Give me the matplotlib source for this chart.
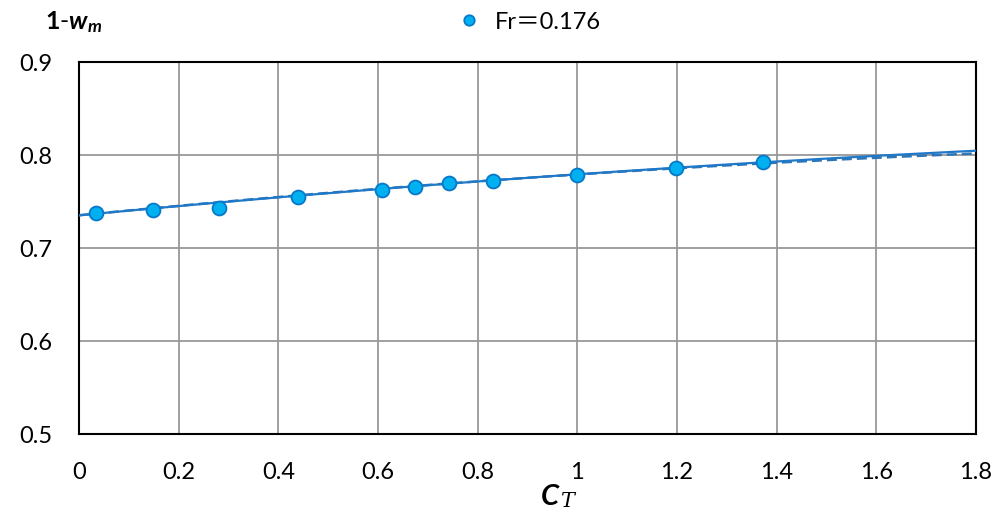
import numpy as np
import matplotlib
matplotlib.use('Agg')
import matplotlib.pyplot as plt

plt.rcParams['font.family'] = ['Lato', 'Noto Sans CJK SC', 'DejaVu Sans']
plt.rcParams['mathtext.fontset'] = 'custom'
plt.rcParams['mathtext.rm'] = 'Lato'
plt.rcParams['mathtext.it'] = 'Lato:italic'
plt.rcParams['mathtext.bf'] = 'Lato:bold'
plt.rcParams['mathtext.bfit'] = 'Lato:bold:italic'

# data
ct = [0.034, 0.149, 0.281, 0.440, 0.608, 0.674, 0.743, 0.831, 1.0, 1.198, 1.373]
one_minus_wm = [0.7375, 0.7405, 0.743, 0.7545, 0.7625, 0.7655, 0.770, 0.7725, 0.778, 0.786, 0.792]
series_label = 'Fr\uff1d0.176'
# trendline coefficients (highest power first)
solid_coef = [-0.0069, 0.0510, 0.7352]
dashed_coef = [-0.0087, 0.0526, 0.7352]
x_ticks = [0, 0.2, 0.4, 0.6, 0.8, 1, 1.2, 1.4, 1.6, 1.8]
x_tick_labels = ['0', '0.2', '0.4', '0.6', '0.8', '1', '1.2', '1.4', '1.6', '1.8']
y_ticks = [0.5, 0.6, 0.7, 0.8, 0.9]

fig = plt.figure(figsize=(9.96, 5.17), dpi=100)
ax = fig.add_axes([0.0793, 0.1605, 0.9006, 0.7195])

xs = np.linspace(0, 1.8, 200)
ax.plot(xs, np.polyval(dashed_coef, xs), color='#2E75B6', lw=1.8, ls=(0, (4, 2)), zorder=3)
ax.plot(xs, np.polyval(solid_coef, xs), color='#1F78C8', lw=1.6, zorder=3)

ax.plot(ct, one_minus_wm, 'o', ms=10, mfc='#00B0F0', mec='#0878C8', mew=1.3,
        ls='none', zorder=4, label=series_label)

ax.set_xlim(0, 1.8)
ax.set_ylim(0.5, 0.9)
ax.set_xticks(x_ticks)
ax.set_xticklabels(x_tick_labels)
ax.set_yticks(y_ticks)
ax.set_yticklabels(['%.1f' % v for v in y_ticks])
ax.tick_params(length=0, labelsize=17, colors='#000000')
ax.tick_params(axis='y', pad=19)
ax.tick_params(axis='x', pad=20)
ax.grid(True, color='#999999', lw=1.3)
ax.set_axisbelow(True)
for s in ax.spines.values():
    s.set_color('#000000')
    s.set_linewidth(1.5)

fig.text(0.045, 0.957, r'$\mathbf{1\text{-}}\mathbfit{w}_{\mathbfit{m}}$', fontsize=18, va='center', ha='left')
fig.text(0.5625, 0.038, r'$\mathbfit{C}$', fontsize=21, va='center', ha='right')
fig.text(0.5625, 0.030, 'T', fontsize=15, style='italic', family='DejaVu Serif',
         va='center', ha='left')

leg = fig.legend(loc='center', bbox_to_anchor=(0.525, 0.957), frameon=False,
                 fontsize=17, handletextpad=0.1, markerscale=0.75)

fig.savefig('out.png', dpi=100)
